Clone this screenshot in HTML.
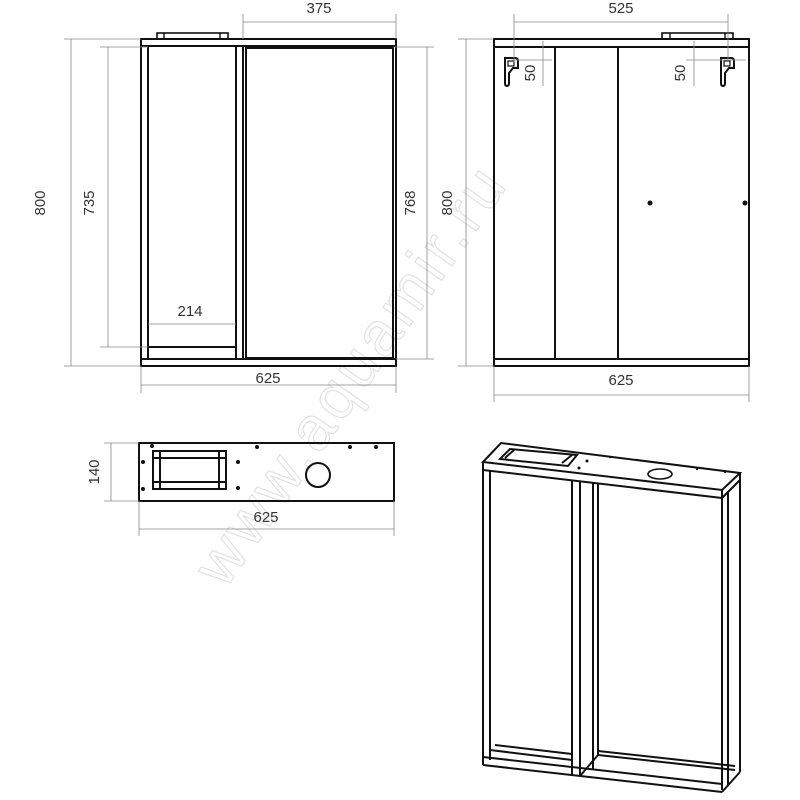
<!DOCTYPE html>
<html><head><meta charset="utf-8"><style>html,body{margin:0;padding:0;background:#fff}svg{display:block}</style></head>
<body>
<svg width="800" height="800" viewBox="0 0 800 800" xmlns="http://www.w3.org/2000/svg" font-family="Liberation Sans, sans-serif">
<rect width="800" height="800" fill="#fff"/>
<!-- watermark -->
<text x="0" y="0" transform="translate(225,590) rotate(-55)" font-size="62" fill="none" stroke="#e2e2e2" stroke-width="1.2" letter-spacing="4">www.aquamir.ru</text>

<g fill="none" stroke="#111" stroke-width="2">
<!-- FRONT VIEW -->
<rect x="141" y="39" width="255" height="327"/>
<line x1="141" y1="46" x2="396" y2="46"/>
<line x1="141" y1="359" x2="396" y2="359"/>
<rect x="157" y="33" width="71" height="6" stroke-width="1.6"/>
<line x1="164" y1="33" x2="164" y2="39" stroke-width="1.4"/><line x1="220" y1="33" x2="220" y2="39" stroke-width="1.4"/>
<line x1="148" y1="46" x2="148" y2="359"/>
<line x1="236" y1="46" x2="236" y2="359"/>
<line x1="243" y1="46" x2="243" y2="359"/>
<rect x="246" y="48" width="147" height="310"/>
<line x1="148" y1="347" x2="236" y2="347"/>
<!-- RIGHT VIEW -->
<rect x="494" y="39" width="255" height="327"/>
<line x1="494" y1="47" x2="749" y2="47"/>
<line x1="494" y1="359" x2="749" y2="359"/>
<rect x="662" y="33" width="71" height="6" stroke-width="1.6"/>
<line x1="670" y1="33" x2="670" y2="39" stroke-width="1.4"/><line x1="725" y1="33" x2="725" y2="39" stroke-width="1.4"/>
<line x1="555" y1="47" x2="555" y2="359"/>
<line x1="618" y1="47" x2="618" y2="359"/>
<!-- hooks -->
<path d="M505 58 h10 q3 0 3 3 v7 h-5 l-4 5 v10 q0 3 -2 3 q-2 0 -2 -3 z" stroke-width="2"/>
<rect x="508" y="61" width="6" height="5" stroke-width="1.2"/>
<path d="M721 58 h10 q3 0 3 3 v7 h-5 l-4 5 v10 q0 3 -2 3 q-2 0 -2 -3 z" stroke-width="2"/>
<rect x="724" y="61" width="6" height="5" stroke-width="1.2"/>
<!-- PLAN VIEW -->
<rect x="139" y="443" width="255" height="58"/>
<rect x="153" y="451" width="73" height="38"/>
<line x1="153" y1="458" x2="226" y2="458"/><line x1="153" y1="482" x2="226" y2="482"/>
<line x1="160" y1="451" x2="160" y2="489"/><line x1="219" y1="451" x2="219" y2="489"/>
<circle cx="318" cy="475" r="12"/>
<!-- ISO VIEW -->
<polygon points="483,462 501,443 740,473 722,490"/>
<line x1="483" y1="470" x2="722" y2="498"/>
<line x1="722" y1="490" x2="722" y2="790"/>
<line x1="740" y1="473" x2="740" y2="772"/>
<line x1="722" y1="498" x2="740" y2="480"/>
<line x1="728" y1="491" x2="728" y2="785"/>
<line x1="483" y1="462" x2="483" y2="765"/>
<line x1="490" y1="470" x2="490" y2="760"/>
<line x1="483" y1="765" x2="722" y2="792"/>
<line x1="483" y1="757" x2="722" y2="784"/>
<line x1="722" y1="792" x2="740" y2="772"/>
<line x1="572" y1="480" x2="572" y2="775"/>
<line x1="580" y1="481" x2="580" y2="776"/>
<line x1="593" y1="483" x2="593" y2="770"/>
<line x1="598" y1="483" x2="598" y2="755"/>
<line x1="598" y1="755" x2="735" y2="770"/>
<line x1="598" y1="751" x2="735" y2="766"/>
<line x1="580" y1="776" x2="598" y2="755"/>
<line x1="490" y1="750" x2="572" y2="760"/>
<line x1="495" y1="745" x2="572" y2="754"/>
<polygon points="500,459 510,449 577,455 568,466" stroke-width="2"/>
<line x1="505" y1="458" x2="515" y2="449"/><line x1="562" y1="463" x2="572" y2="455"/>
<ellipse cx="660" cy="474" rx="12" ry="5" stroke-width="1.6"/>
</g>
<g fill="#111">
<circle cx="650" cy="203" r="2.5"/><circle cx="745" cy="203" r="2.5"/>
<circle cx="152" cy="446" r="2"/><circle cx="257" cy="447" r="2"/><circle cx="350" cy="447" r="2"/><circle cx="376" cy="447" r="2"/>
<circle cx="143" cy="462" r="2"/><circle cx="143" cy="489" r="2"/><circle cx="238" cy="462" r="2"/><circle cx="238" cy="488" r="2"/>
<circle cx="587" cy="461" r="1.5"/><circle cx="579" cy="468" r="1.5"/><circle cx="610" cy="457" r="1.2"/><circle cx="697" cy="469" r="1.2"/><circle cx="725" cy="472" r="1.2"/>
</g>
<!-- dimension lines -->
<g stroke="#888" stroke-width="0.8" fill="none">
<line x1="243" y1="22" x2="396" y2="22"/><line x1="243" y1="14" x2="243" y2="39"/><line x1="396" y1="14" x2="396" y2="39"/>
<line x1="71" y1="39" x2="71" y2="366"/><line x1="64" y1="39" x2="141" y2="39"/><line x1="64" y1="366" x2="141" y2="366"/>
<line x1="108" y1="47" x2="108" y2="347"/><line x1="100" y1="47" x2="148" y2="47"/><line x1="100" y1="347" x2="148" y2="347"/>
<line x1="427" y1="47" x2="427" y2="359"/><line x1="393" y1="47" x2="434" y2="47"/><line x1="396" y1="359" x2="434" y2="359"/>
<line x1="141" y1="385" x2="396" y2="385"/><line x1="141" y1="366" x2="141" y2="393"/><line x1="396" y1="366" x2="396" y2="393"/>
<line x1="148" y1="324" x2="236" y2="324"/>
<line x1="514" y1="22" x2="728" y2="22"/><line x1="514" y1="14" x2="514" y2="62"/><line x1="728" y1="14" x2="728" y2="62"/>
<line x1="466" y1="39" x2="466" y2="366"/><line x1="458" y1="39" x2="494" y2="39"/><line x1="458" y1="366" x2="494" y2="366"/>
<line x1="494" y1="395" x2="749" y2="395"/><line x1="494" y1="366" x2="494" y2="402"/><line x1="749" y1="366" x2="749" y2="402"/>
<line x1="543" y1="41" x2="543" y2="86"/><line x1="512" y1="60" x2="552" y2="60"/>
<line x1="694" y1="41" x2="694" y2="86"/><line x1="686" y1="60" x2="746" y2="60"/>
<line x1="111" y1="443" x2="111" y2="501"/><line x1="104" y1="443" x2="139" y2="443"/><line x1="104" y1="501" x2="139" y2="501"/>
<line x1="139" y1="529" x2="394" y2="529"/><line x1="139" y1="501" x2="139" y2="536"/><line x1="394" y1="501" x2="394" y2="536"/>
</g>
<g fill="#333" font-size="15" text-anchor="middle">
<text x="319" y="13">375</text>
<text x="268" y="383">625</text>
<text x="190" y="316">214</text>
<text x="621" y="13">525</text>
<text x="621" y="385">625</text>
<text x="266" y="522">625</text>
<text transform="translate(45,203) rotate(-90)">800</text>
<text transform="translate(94,203) rotate(-90)">735</text>
<text transform="translate(415,203) rotate(-90)">768</text>
<text transform="translate(452,203) rotate(-90)">800</text>
<text transform="translate(535,73) rotate(-90)">50</text>
<text transform="translate(685,73) rotate(-90)">50</text>
<text transform="translate(99,472) rotate(-90)">140</text>
</g>
</svg>
</body></html>
